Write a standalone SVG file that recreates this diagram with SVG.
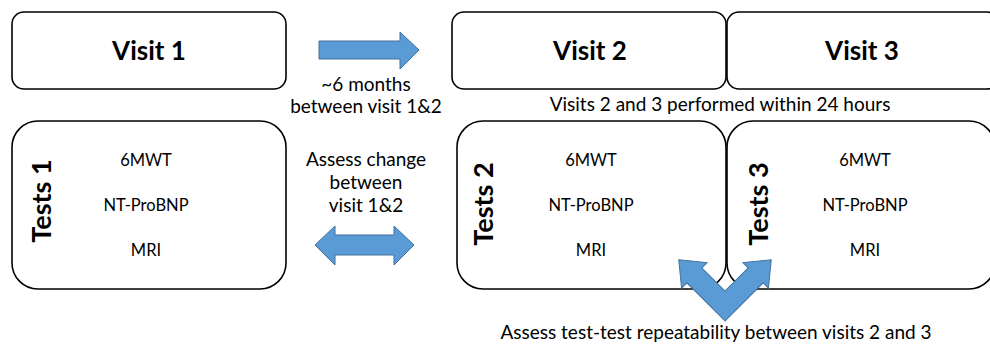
<svg xmlns="http://www.w3.org/2000/svg" width="990" height="344" viewBox="0 0 990 344">
  <style>
    .box { fill: #ffffff; stroke: #000000; stroke-width: 1.6; }
    .arrow { fill: #5b9bd5; stroke: #41719c; stroke-width: 1; stroke-linejoin: miter; }
    .title { font-family: Lato, "Liberation Sans", sans-serif; font-weight: bold; font-size: 26px; fill: #000; text-anchor: middle; }
    .tests { font-size: 27px; }
    .item { font-family: Lato, "Liberation Sans", sans-serif; font-size: 16.5px; fill: #000; text-anchor: middle; }
    .note { font-family: Lato, "Liberation Sans", sans-serif; font-size: 19px; fill: #000; text-anchor: middle; }
  </style>
  <rect width="990" height="344" fill="#ffffff"/>

  <!-- visit boxes -->
  <g id="visit1">
    <rect class="box" x="12" y="12" width="274" height="77" rx="12"/>
    <text class="title" x="149" y="60">Visit 1</text>
  </g>
  <g id="visit2">
    <rect class="box" x="452" y="12" width="274" height="77" rx="12"/>
    <text class="title" x="590" y="60">Visit 2</text>
  </g>
  <g id="visit3">
    <rect class="box" x="727" y="12" width="272" height="77" rx="12"/>
    <text class="title" x="862" y="60">Visit 3</text>
  </g>

  <!-- test boxes -->
  <g id="tests1">
    <rect class="box" x="12" y="121" width="274" height="168" rx="26"/>
    <text class="title tests" transform="translate(51 201) rotate(-90)">Tests 1</text>
    <text class="item" x="146" y="166">6MWT</text>
    <text class="item" x="146" y="211">NT-ProBNP</text>
    <text class="item" x="146" y="256">MRI</text>
  </g>
  <g id="tests2">
    <rect class="box" x="457" y="121" width="269" height="168" rx="26"/>
    <text class="title tests" transform="translate(493 204) rotate(-90)">Tests 2</text>
    <text class="item" x="591" y="166">6MWT</text>
    <text class="item" x="591" y="211">NT-ProBNP</text>
    <text class="item" x="591" y="256">MRI</text>
  </g>
  <g id="tests3">
    <rect class="box" x="727" y="121" width="268" height="168" rx="26"/>
    <text class="title tests" transform="translate(768 204) rotate(-90)">Tests 3</text>
    <text class="item" x="865" y="166">6MWT</text>
    <text class="item" x="865" y="211">NT-ProBNP</text>
    <text class="item" x="865" y="256">MRI</text>
  </g>

  <!-- connectors -->
  <g id="connectors">
    <!-- visit 1 to visit 2 -->
    <polygon class="arrow" points="319,41 400,41 400,32 419,50 400,69 400,59 319,59"/>
    <text class="note" x="366" y="91">~6 months</text>
    <text class="note" x="366" y="113">between visit 1&amp;2</text>

    <!-- compare visit 1 and visit 2 -->
    <polygon class="arrow" points="315,245 335,226 335,235 394,235 394,226 414,245 394,265 394,255 335,255 335,265"/>
    <text class="note" x="366" y="166">Assess change</text>
    <text class="note" x="366" y="189">between</text>
    <text class="note" x="366" y="212">visit 1&amp;2</text>

    <text class="note" x="720" y="111">Visits 2 and 3 performed within 24 hours</text>

    <!-- repeatability between visits 2 and 3 -->
    <polygon class="arrow" transform="translate(725 321) rotate(45)"
      points="0,0 -54,0 -54,7.4 -76,-10.6 -54,-28.6 -54,-21.2 -21.2,-21.2 -21.2,-54 -28.6,-54 -10.6,-76 7.4,-54 0,-54"/>
    <text class="note" x="716" y="339">Assess test-test repeatability between visits 2 and 3</text>
  </g>
</svg>
